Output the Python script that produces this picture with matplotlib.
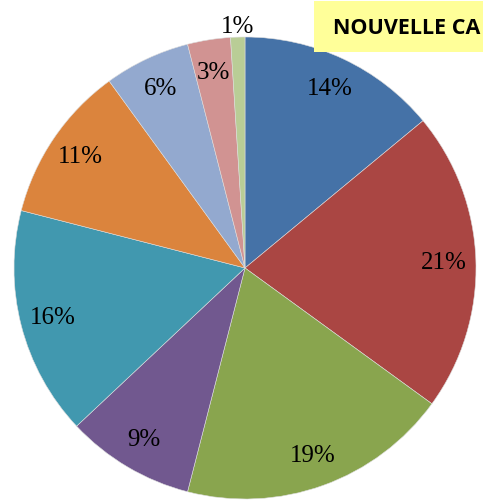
import matplotlib
matplotlib.use('Agg')
import matplotlib.pyplot as plt
from matplotlib.patches import Rectangle

# slice shares, clockwise from 12 o'clock
values = [14, 21, 19, 9, 16, 11, 6, 3, 1]
labels = ['14%', '21%', '19%', '9%', '16%', '11%', '6%', '3%', '1%']
colors = ['#4572A7', '#AA4643', '#89A54E', '#71588F', '#4198AF',
          '#DB843D', '#93A9CF', '#D19392', '#B9CD96']
title = 'NOUVELLE CA'

W, H = 483, 502
fig = plt.figure(figsize=(W / 100, H / 100), dpi=100)
fig.patch.set_facecolor('white')

# pie centre ~ (245, 269) px, radius ~231 px
cx, cy, r = 245, 269, 231
ax = fig.add_axes([(cx - r) / W, (H - cy - r) / H, 2 * r / W, 2 * r / H])
wedges, texts = ax.pie(values, labels=labels, colors=colors, startangle=90,
                       counterclock=False, labeldistance=0.86,
                       wedgeprops=dict(edgecolor='#dddddd', linewidth=0.4),
                       textprops=dict(family='Liberation Serif', fontsize=18,
                                      color='black', ha='center', va='center'))
# smallest slice label sits outside the pie
x, y = texts[-1].get_position()
texts[-1].set_position((x * 1.22, y * 1.22))
ax.set_xlim(-1, 1)
ax.set_ylim(-1, 1)
ax.set_aspect('equal')
ax.axis('off')

# yellow title box, cut by the right edge
fig.patches.append(Rectangle((314 / W, 1 - 53 / H), (W - 314) / W, 51 / H,
                             transform=fig.transFigure, facecolor='#FFFF99',
                             edgecolor='none', zorder=0))
fig.text(333 / W, 1 - 28 / H, title, family='Open Sans', fontweight='bold',
         fontsize=15.5, va='center', ha='left')

plt.savefig('out.png', dpi=100)
